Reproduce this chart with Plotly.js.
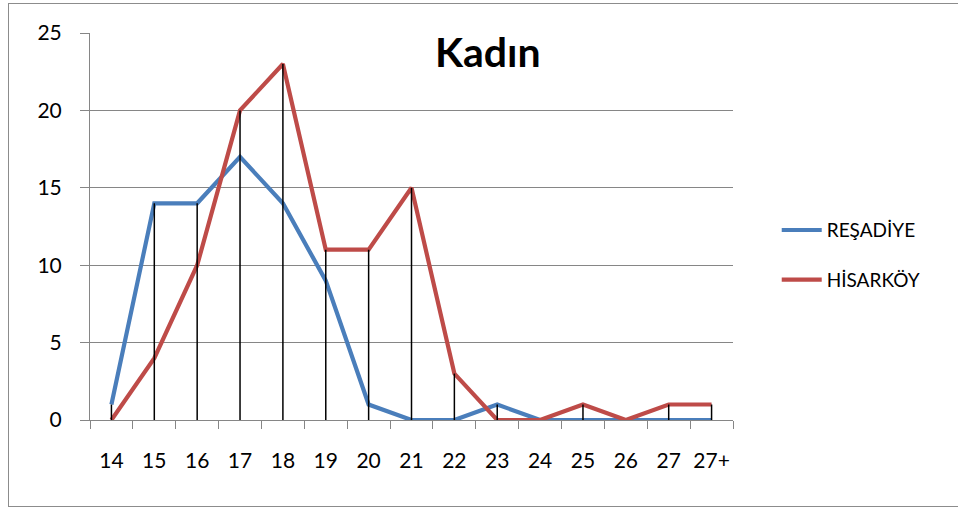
<!DOCTYPE html>
<html>
<head>
<meta charset="utf-8">
<script src="https://cdn.plot.ly/plotly-3.0.1.min.js"></script>
<style>
html,body{margin:0;padding:0;background:#fff;overflow:hidden;}
#chart{width:958px;height:507px;}
#frame{position:absolute;left:8px;top:3px;width:970px;height:502px;border:1px solid #8c8c8c;pointer-events:none;}
</style>
</head>
<body>
<div id="chart"></div>
<div id="frame"></div>
<script>
const categories = ["14","15","16","17","18","19","20","21","22","23","24","25","26","27","27+"];
const resadiye = [1,14,14,17,14,9,1,0,0,1,0,0,0,0,0];
const hisarkoy = [0,4,10,20,23,11,11,15,3,0,0,1,0,1,1];

// drop lines from the higher of the two series down to 0
const dropX = [], dropY = [];
categories.forEach((c,i)=>{
  const m = Math.max(resadiye[i], hisarkoy[i]);
  if (m > 0) { dropX.push(c,c,null); dropY.push(m,0,null); }
});

const font = "Lato, 'Open Sans', sans-serif";

const traces = [
  {x: categories, y: resadiye, name:"REŞADİYE", mode:"lines", line:{color:"#4a7ebb", width:4.2}, legendgroup:"a"},
  {x: categories, y: hisarkoy, name:"HİSARKÖY", mode:"lines", line:{color:"#be4b48", width:4.2}, legendgroup:"b"},
  {x: dropX, y: dropY, mode:"lines", line:{color:"#000", width:1.5}, showlegend:false, hoverinfo:"skip"}
];

const layout = {
  width:958, height:507,
  margin:{l:90, r:225, t:33, b:87},
  paper_bgcolor:"#fff", plot_bgcolor:"#fff",
  font:{family:font, size:20, color:"#000"},
  xaxis:{
    type:"category", categoryorder:"array", categoryarray:categories,
    range:[-0.5,14.5], showgrid:false, tickangle:0,
    showline:true, linecolor:"#868686", linewidth:1,
    ticks:"outside", ticklen:8, tickcolor:"#868686", tickson:"boundaries",
    ticklabelstandoff:22, tickfont:{size:21}, zeroline:false
  },
  yaxis:{
    range:[0,25], dtick:5, showgrid:true, gridcolor:"#868686", gridwidth:1,
    showline:true, linecolor:"#868686", linewidth:1,
    ticks:"outside", ticklen:9, tickcolor:"#868686",
    ticklabelstandoff:14, tickfont:{size:21}, zeroline:false
  },
  legend:{x:1.068, y:0.426, xanchor:"left", yanchor:"middle", font:{size:19},
          traceorder:"grouped", tracegroupgap:22, itemwidth:40},
  annotations:[{text:"<b>Kadın</b>", xref:"paper", yref:"paper", x:0.619, y:0.951,
                showarrow:false, font:{size:41, family:font}, xanchor:"center", yanchor:"middle"}],
  showlegend:true
};

Plotly.newPlot("chart", traces, layout, {displayModeBar:false, staticPlot:true});
</script>
</body>
</html>
